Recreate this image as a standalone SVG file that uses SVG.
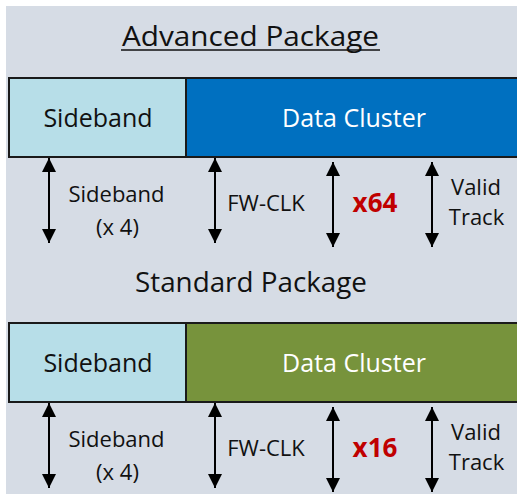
<svg xmlns="http://www.w3.org/2000/svg" width="517" height="494" viewBox="0 0 517 494">
  <style>
    text { font-family: "Open Sans", "Noto Sans", "Liberation Sans", sans-serif; fill: #111; }
    .title { font-size: 27px; text-anchor: middle; }
    .box { font-size: 25px; text-anchor: middle; }
    .light { fill: #ffffff; }
    .lbl { font-size: 22px; text-anchor: middle; }
    .count { font-size: 26px; font-weight: bold; fill: #C00000; text-anchor: middle; }
    .frame { stroke: #1a1a1a; stroke-width: 2; }
    .sb { fill: #B7DEE8; }
    .adv { fill: #0070C0; }
    .std { fill: #77933C; }
    .wire { stroke: #000; stroke-width: 2; fill: none; marker-start: url(#tip); marker-end: url(#tip); }
  </style>
  <defs>
    <marker id="tip" markerUnits="userSpaceOnUse" viewBox="0 0 14 14" markerWidth="14" markerHeight="14" refX="14" refY="7" orient="auto-start-reverse">
      <path d="M0,0 L14,7 L0,14 Z" fill="#000"/>
    </marker>
  </defs>

  <!-- slide background -->
  <rect x="6" y="6" width="511" height="488" fill="#D6DCE5"/>

  <!-- advanced package -->
  <g id="advanced-title">
    <text class="title" x="250.5" y="46" textLength="257" lengthAdjust="spacingAndGlyphs">Advanced Package</text>
    <line x1="121" y1="50" x2="380" y2="50" stroke="#111" stroke-width="1.6"/>
  </g>
  <g id="adv-sideband">
    <rect class="frame sb" x="9" y="78" width="177" height="79"/>
    <text class="box" x="98" y="127">Sideband</text>
  </g>
  <g id="adv-data">
    <rect class="frame adv" x="186" y="78" width="340" height="79"/>
    <text class="box light" x="354" y="127">Data Cluster</text>
  </g>
  <g id="adv-labels">
    <text class="lbl" x="116.5" y="202">Sideband</text>
    <text class="lbl" x="117.5" y="235">(x 4)</text>
    <text class="lbl" x="266" y="211">FW-CLK</text>
    <text class="count" x="375" y="212">x64</text>
    <text class="lbl" x="476" y="195">Valid</text>
    <text class="lbl" x="476.5" y="225">Track</text>
  </g>

  <!-- standard package -->
  <g id="standard-title">
    <text class="title" x="251" y="292" textLength="232" lengthAdjust="spacingAndGlyphs">Standard Package</text>
  </g>
  <g id="std-sideband">
    <rect class="frame sb" x="9" y="323" width="177" height="79"/>
    <text class="box" x="98" y="372">Sideband</text>
  </g>
  <g id="std-data">
    <rect class="frame std" x="186" y="323" width="340" height="79"/>
    <text class="box light" x="354" y="372">Data Cluster</text>
  </g>
  <g id="std-labels">
    <text class="lbl" x="116.5" y="447">Sideband</text>
    <text class="lbl" x="117.5" y="480">(x 4)</text>
    <text class="lbl" x="266" y="456">FW-CLK</text>
    <text class="count" x="375" y="457">x16</text>
    <text class="lbl" x="476" y="440">Valid</text>
    <text class="lbl" x="476.5" y="470">Track</text>
  </g>

  <!-- signal connectors -->
  <g id="connectors">
    <line class="wire" x1="49" y1="158" x2="49" y2="243"/>
    <line class="wire" x1="215" y1="158" x2="215" y2="243"/>
    <line class="wire" x1="333" y1="162" x2="333" y2="247"/>
    <line class="wire" x1="432" y1="162" x2="432" y2="247"/>
    <line class="wire" x1="49" y1="403" x2="49" y2="488"/>
    <line class="wire" x1="215" y1="403" x2="215" y2="488"/>
    <line class="wire" x1="333" y1="407" x2="333" y2="492"/>
    <line class="wire" x1="432" y1="407" x2="432" y2="492"/>
  </g>
</svg>
